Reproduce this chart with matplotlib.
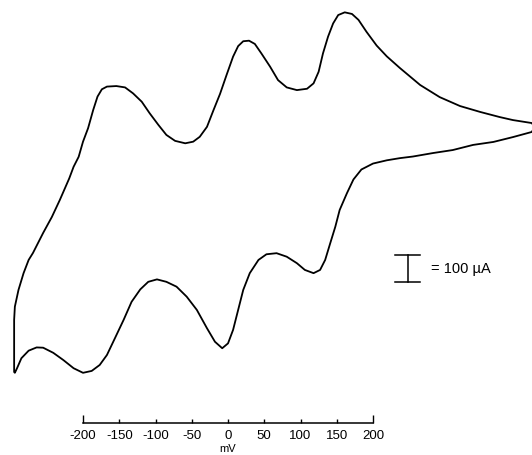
import matplotlib
matplotlib.use("Agg")
import matplotlib.pyplot as plt
import numpy as np

plt.rcParams['font.family'] = ['Liberation Sans', 'DejaVu Sans']

# Cyclic voltammogram (potential in mV, current in uA)
# Upper branch: from the positive vertex sweeping to the negative vertex
upper_mV = [423, 419, 393, 375, 348, 320, 292, 265, 237, 219, 205, 191, 180, 171,
            161, 152, 145, 138, 131, 125, 118, 109, 95, 81, 69, 58, 46, 37, 29, 21,
            14, 7, -2, -11, -20, -29, -39, -48, -59, -73, -85, -96, -108, -119,
            -131, -142, -154, -167, -174, -180, -186, -193, -200, -206, -213, -219,
            -232, -243, -255, -269, -275, -282, -289, -294, -295, -295]
upper_uA = [270, 285, 296, 307, 326, 348, 381, 426, 489, 532, 572, 623, 667, 689,
            695, 685, 654, 605, 543, 475, 432, 412, 407, 417, 444, 494, 543, 578, 590, 588,
            570, 531, 463, 393, 333, 271, 234, 216, 210, 219, 241, 278, 321, 364,
            395, 417, 422, 420, 410, 383, 333, 266, 216, 160, 123, 80,
            0, -63, -122, -196, -222, -271, -333, -395, -444, -637]

# Lower branch: from the negative vertex sweeping back to the positive vertex
lower_mV = [-294, -291, -285, -275, -264, -255, -241, -227, -213, -200, -188, -177,
            -167, -156, -144, -133, -121, -110, -98, -85, -71, -57, -43, -29, -18, -8,
            0, 7, 14, 21, 30, 42, 53, 67, 81, 95, 106, 118, 127, 134, 141, 148, 154,
            164, 173, 184, 200, 219, 237, 255, 283, 310, 338, 366, 393, 419, 423]
lower_uA = [-640, -623, -586, -558, -546, -547, -566, -593, -623, -640, -633, -611,
            -574, -512, -444, -377, -331, -303, -294, -303, -321, -358, -407, -475, -525, -549,
            -531, -481, -407, -333, -271, -222, -201, -197, -210, -234, -259, -271, -259, -222, -160, -99, -37,
            25, 76, 113, 135, 147, 155, 161, 174, 185, 204, 215, 233, 252, 270]

axis_ticks = [-200, -150, -100, -50, 0, 50, 100, 150, 200]
axis_label = "mV"
scale_uA = 100
scale_text = "= 100 \u00b5A"

fig = plt.figure(figsize=(5.32, 4.55), dpi=100)
ax = fig.add_axes([0, 0, 1, 1])
ax.set_xlim(-314.5, 419.3)
ax.set_ylim(-944.4, 740.7)

E = np.concatenate([upper_mV, lower_mV])
I = np.concatenate([upper_uA, lower_uA])
ax.plot(E, I, color='black', lw=1.3, solid_joinstyle='round', solid_capstyle='round',
        antialiased=True)

# potential scale axis
for s in ['top', 'left', 'right']:
    ax.spines[s].set_visible(False)
ax.spines['bottom'].set_position(('data', -826))
ax.spines['bottom'].set_bounds(axis_ticks[0], axis_ticks[-1])
ax.spines['bottom'].set_linewidth(1.1)
ax.set_yticks([])
ax.set_xticks(axis_ticks)
ax.set_xticklabels([str(t) for t in axis_ticks], fontsize=9.5)
ax.tick_params(axis='x', direction='in', length=3, width=1.0, pad=5)
ticks = ax.xaxis.get_major_ticks()
for t in (ticks[0], ticks[-1]):
    t.tick1line.set_markersize(6)
ax.text(0, -905, axis_label, ha='center', va='top', fontsize=8)

# current scale bar
xb, yc = 248, -254
ax.plot([xb, xb], [yc - scale_uA / 2, yc + scale_uA / 2], color='black', lw=1.1)
ax.plot([xb - 17, xb + 17], [yc + scale_uA / 2] * 2, color='black', lw=1.1)
ax.plot([xb - 17, xb + 17], [yc - scale_uA / 2] * 2, color='black', lw=1.1)
ax.text(xb + 32, yc, scale_text, ha='left', va='center', fontsize=10.5)

fig.savefig("out.png", dpi=100)
